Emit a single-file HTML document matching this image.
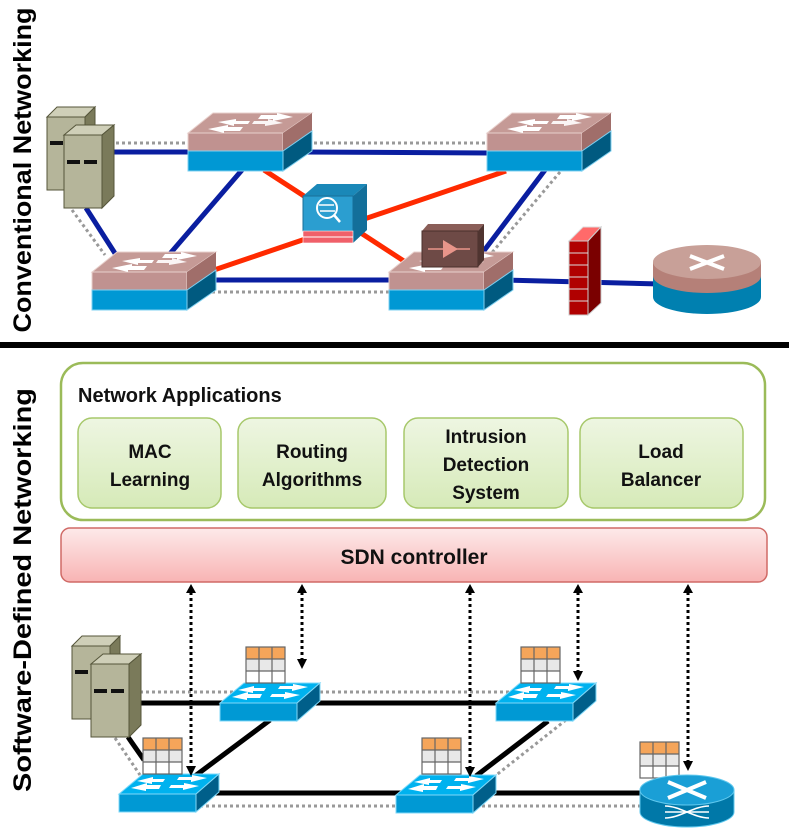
<!DOCTYPE html>
<html><head><meta charset="utf-8"><style>
html,body{margin:0;padding:0;background:#fff;}
svg{display:block;font-family:"Liberation Sans",sans-serif;}
</style></head><body>
<svg width="789" height="830" viewBox="0 0 789 830" xmlns="http://www.w3.org/2000/svg">
<defs>
<linearGradient id="gg" x1="0" y1="0" x2="0" y2="1"><stop offset="0" stop-color="#eef6e2"/><stop offset="1" stop-color="#d6eab8"/></linearGradient>
<linearGradient id="pg" x1="0" y1="0" x2="0" y2="1"><stop offset="0" stop-color="#fdeaea"/><stop offset="1" stop-color="#f8b4b4"/></linearGradient>
<g id="cswitch">
 <polygon points="0,20 25,0 124,0 95,20" fill="#c59a96" stroke="#e8d0cc"/>
 <rect x="0" y="20" width="95" height="18" fill="#c09290" stroke="#e8d0cc"/>
 <rect x="0" y="38" width="95" height="20" fill="#0098d4" stroke="#7fd0f0"/>
 <polygon points="95,20 124,0 124,38 95,58" fill="#a06e6a"/>
 <polygon points="95,38 124,18 124,38 95,58" fill="#005a80" stroke="#7fd0f0"/>
 <polygon points="20,16 40,12 40,14 55,14 52,18 36,18 36,20" fill="#fff"/>
 <polygon points="105,4 85,8 85,6 70,6 73,2 89,2 89,0" fill="#fff"/>
 <polygon points="30,9 48,6 48,8 62,8 60,11 46,11 46,13" fill="#fff"/>
 <polygon points="95,10 77,13 77,11 64,11 66,8 80,8 80,6" fill="#fff" opacity=".9"/>
</g>
<g id="server">
 <polygon points="0,10 10,0 48,0 38,10" fill="#cfcfb8" stroke="#55553a"/>
 <rect x="0" y="10" width="38" height="73" fill="#b5b59a" stroke="#55553a"/>
 <polygon points="38,10 48,0 48,73 38,83" fill="#7a7a5a" stroke="#55553a"/>
 <rect x="3" y="34" width="13" height="4" fill="#111"/>
</g>
<g id="sserver">
 <polygon points="0,10 12,0 50,0 38,10" fill="#cfcfb8" stroke="#55553a"/>
 <rect x="0" y="10" width="38" height="73" fill="#b5b59a" stroke="#55553a"/>
 <polygon points="38,10 50,0 50,71 38,83" fill="#7a7a5a" stroke="#55553a"/>
 <rect x="3" y="35" width="13" height="4" fill="#111"/>
 <rect x="20" y="35" width="13" height="4" fill="#111"/>
</g>
<g id="bswitch">
 <polygon points="0,20 24,0 100,0 77,20" fill="#00b2ef" stroke="#7fd8f8"/>
 <rect x="0" y="20" width="77" height="18" fill="#0099d4" stroke="#7fd8f8"/>
 <polygon points="77,20 100,0 100,18 77,38" fill="#005f8a" stroke="#7fd8f8"/>
 <polygon points="12,14 28,9 28,11 42,11 40,15 27,15 27,17" fill="#fff"/>
 <polygon points="88,4 72,8 72,6 58,6 60,3 73,3 73,1" fill="#fff"/>
 <polygon points="18,7 34,3 34,5 46,5 44,8 33,8 33,10" fill="#fff"/>
 <polygon points="80,12 64,16 64,14 50,14 52,11 65,11 65,9" fill="#fff"/>
</g>
<g id="table">
 <rect x="0" y="0" width="39" height="12" fill="#f5a55a"/>
 <rect x="0" y="12" width="39" height="12" fill="#e8e8e8"/>
 <rect x="0" y="24" width="39" height="12" fill="#fff"/>
 <g stroke="#666" stroke-width="1.2" fill="none">
 <rect x="0" y="0" width="39" height="36"/>
 <line x1="13" y1="0" x2="13" y2="36"/><line x1="26" y1="0" x2="26" y2="36"/>
 <line x1="0" y1="12" x2="39" y2="12"/><line x1="0" y1="24" x2="39" y2="24"/>
 </g>
</g>
</defs>

<!-- ===== Conventional ===== -->
<text transform="translate(31,170) rotate(-90)" text-anchor="middle" font-size="25" font-weight="bold" textLength="325" lengthAdjust="spacingAndGlyphs">Conventional Networking</text>

<g stroke="#999" stroke-width="3" stroke-dasharray="3,3" fill="none">
 <line x1="110" y1="143" x2="500" y2="143"/>
 <line x1="72" y1="210" x2="105" y2="255"/>
 <line x1="200" y1="292" x2="400" y2="292"/>
 <line x1="560" y1="172" x2="490" y2="255"/>
</g>
<g stroke="#0a1ea0" stroke-width="5" fill="none">
 <line x1="110" y1="152" x2="190" y2="152"/>
 <line x1="300" y1="152" x2="490" y2="153"/>
 <line x1="86" y1="208" x2="118" y2="258"/>
 <line x1="242" y1="170" x2="168" y2="256"/>
 <line x1="210" y1="280" x2="392" y2="280"/>
 <line x1="545" y1="170" x2="483" y2="252"/>
 <line x1="505" y1="280" x2="660" y2="284"/>
</g>
<g stroke="#ff2a00" stroke-width="5" fill="none">
 <line x1="264" y1="170" x2="410" y2="265"/>
 <line x1="214" y1="270" x2="506" y2="171"/>
</g>

<use href="#server" x="47" y="107"/>
<use href="#sserver" x="64" y="125"/>
<use href="#cswitch" x="188" y="113"/>
<use href="#cswitch" x="487" y="113"/>
<use href="#cswitch" x="92" y="252"/>
<use href="#cswitch" x="389" y="252"/>

<!-- IPS box -->
<g>
 <polygon points="303,196 317,184 367,184 353,196" fill="#1a88b8"/>
 <rect x="303" y="196" width="50" height="35" fill="#2b9ed0" stroke="#1a6f98"/>
 <polygon points="353,196 367,184 367,230 353,243" fill="#136f9a"/>
 <rect x="303" y="231" width="50" height="12" fill="#f0606a" stroke="#fff" stroke-width=".6"/>
 <line x1="303" y1="237" x2="353" y2="237" stroke="#fff"/>
 <circle cx="327" cy="208" r="10" fill="none" stroke="#fff" stroke-width="2"/>
 <line x1="334" y1="215" x2="340" y2="222" stroke="#fff" stroke-width="2.5"/>
 <line x1="319" y1="205" x2="334" y2="205" stroke="#fff" stroke-width="1.5"/>
 <line x1="320" y1="211" x2="335" y2="211" stroke="#fff" stroke-width="1.5"/>
</g>
<!-- brown box -->
<g>
 <polygon points="422,231 428,224 484,224 478,231" fill="#8a5e58"/>
 <rect x="422" y="231" width="56" height="36" fill="#6e4a46" stroke="#4a302c"/>
 <polygon points="478,231 484,224 484,260 478,267" fill="#4f3430"/>
 <polygon points="443,240 458,249 443,258" fill="#e8958a"/>
 <line x1="428" y1="249" x2="470" y2="249" stroke="#e8958a" stroke-width="1.5"/>
</g>
<!-- brick firewall -->
<g>
 <polygon points="569,241 583,227 601,227 588,241" fill="#ff6a6a" stroke="#ddd"/>
 <rect x="569" y="241" width="19" height="74" fill="#b00000" stroke="#ccc"/>
 <polygon points="588,241 601,227 601,303 588,315" fill="#7a0000" stroke="#ccc"/>
 <g stroke="#ddd" stroke-width="1">
  <line x1="569" y1="253" x2="588" y2="253"/><line x1="569" y1="265" x2="588" y2="265"/>
  <line x1="569" y1="277" x2="588" y2="277"/><line x1="569" y1="289" x2="588" y2="289"/>
  <line x1="569" y1="301" x2="588" y2="301"/>
 </g>
</g>
<!-- router -->
<g>
 <path d="M653,262 L653,297 A54,17 0 0 0 761,297 L761,262 Z" fill="#0080b0"/>
 <path d="M653,262 L653,276 A54,17 0 0 0 761,276 L761,262 Z" fill="#b58078"/>
 <ellipse cx="707" cy="262" rx="54" ry="17" fill="#c8a098"/>
 <g stroke="#fff" stroke-width="4"><line x1="690" y1="256" x2="724" y2="269"/><line x1="724" y1="256" x2="690" y2="269"/></g>
</g>

<!-- separator -->
<rect x="0" y="342" width="789" height="6" fill="#000"/>

<!-- ===== SDN ===== -->
<text transform="translate(31,590) rotate(-90)" text-anchor="middle" font-size="25" font-weight="bold" textLength="404" lengthAdjust="spacingAndGlyphs">Software-Defined Networking</text>

<rect x="61" y="363" width="704" height="157" rx="22" fill="#fff" stroke="#9bbb59" stroke-width="2.5"/>
<text x="78" y="402" font-size="20" font-weight="bold" fill="#111">Network Applications</text>
<g stroke="#a7c86b" stroke-width="1.5" fill="url(#gg)">
 <rect x="78" y="418" width="143" height="90" rx="14"/>
 <rect x="238" y="418" width="148" height="90" rx="14"/>
 <rect x="404" y="418" width="164" height="90" rx="14"/>
 <rect x="580" y="418" width="163" height="90" rx="14"/>
</g>
<g font-size="19" font-weight="bold" text-anchor="middle" fill="#111">
 <text x="150" y="458">MAC</text><text x="150" y="486">Learning</text>
 <text x="312" y="458">Routing</text><text x="312" y="486">Algorithms</text>
 <text x="486" y="443">Intrusion</text><text x="486" y="471">Detection</text><text x="486" y="499">System</text>
 <text x="661" y="458">Load</text><text x="661" y="486">Balancer</text>
</g>
<rect x="61" y="528" width="706" height="54" rx="9" fill="url(#pg)" stroke="#d06a66" stroke-width="1.5"/>
<text x="414" y="564" font-size="21" font-weight="bold" text-anchor="middle" fill="#111">SDN controller</text>

<!-- network lines -->
<g stroke="#999" stroke-width="3" stroke-dasharray="3,3" fill="none">
 <line x1="140" y1="692" x2="570" y2="692"/>
 <line x1="115" y1="738" x2="140" y2="775"/>
 <line x1="200" y1="806" x2="640" y2="806"/>
 <line x1="566" y1="720" x2="490" y2="780"/>
</g>
<g stroke="#000" stroke-width="5" fill="none">
 <line x1="140" y1="703" x2="230" y2="703"/>
 <line x1="300" y1="703" x2="505" y2="703"/>
 <line x1="128" y1="737" x2="144" y2="760"/>
 <line x1="270" y1="720" x2="195" y2="776"/>
 <line x1="205" y1="793" x2="405" y2="793"/>
 <line x1="548" y1="721" x2="476" y2="776"/>
 <line x1="480" y1="793" x2="645" y2="793"/>
</g>

<use href="#server" x="72" y="636"/>
<use href="#sserver" x="91" y="654"/>
<use href="#bswitch" x="220" y="683"/>
<use href="#bswitch" x="496" y="683"/>
<use href="#bswitch" x="119" y="774"/>
<use href="#bswitch" x="396" y="775"/>
<use href="#table" x="246" y="647"/>
<use href="#table" x="521" y="647"/>
<use href="#table" x="143" y="738"/>
<use href="#table" x="422" y="738"/>
<use href="#table" x="640" y="742"/>

<!-- SDN router -->
<g>
 <path d="M640,790 L640,812 A47,15 0 0 0 734,812 L734,790 Z" fill="#0078a8" stroke="#5fc8ee"/>
 <ellipse cx="687" cy="790" rx="47" ry="15" fill="#1a9fd6" stroke="#5fc8ee"/>
 <g stroke="#fff" stroke-width="4"><line x1="668" y1="782" x2="706" y2="798"/><line x1="706" y1="782" x2="668" y2="798"/></g>
 <g stroke="#fff" stroke-width="1.5" fill="none"><line x1="665" y1="812" x2="709" y2="812"/><path d="M665,818 C680,818 694,806 709,806"/><path d="M665,806 C680,806 694,818 709,818"/></g>
</g>

<!-- dotted control arrows -->
<g stroke="#000" stroke-width="3" stroke-dasharray="3,3" fill="none">
 <line x1="191" y1="592" x2="191" y2="768"/>
 <line x1="302" y1="592" x2="302" y2="660"/>
 <line x1="470" y1="592" x2="470" y2="768"/>
 <line x1="578" y1="592" x2="578" y2="672"/>
 <line x1="688" y1="592" x2="688" y2="762"/>
</g>
<g fill="#000">
 <polygon points="186,593 191,584 196,593"/><polygon points="186,766 191,776 196,766"/>
 <polygon points="297,593 302,584 307,593"/><polygon points="297,659 302,669 307,659"/>
 <polygon points="465,593 470,584 475,593"/><polygon points="465,767 470,777 475,767"/>
 <polygon points="573,593 578,584 583,593"/><polygon points="573,671 578,681 583,671"/>
 <polygon points="683,593 688,584 693,593"/><polygon points="683,761 688,771 693,761"/>
</g>
</svg>
</body></html>
